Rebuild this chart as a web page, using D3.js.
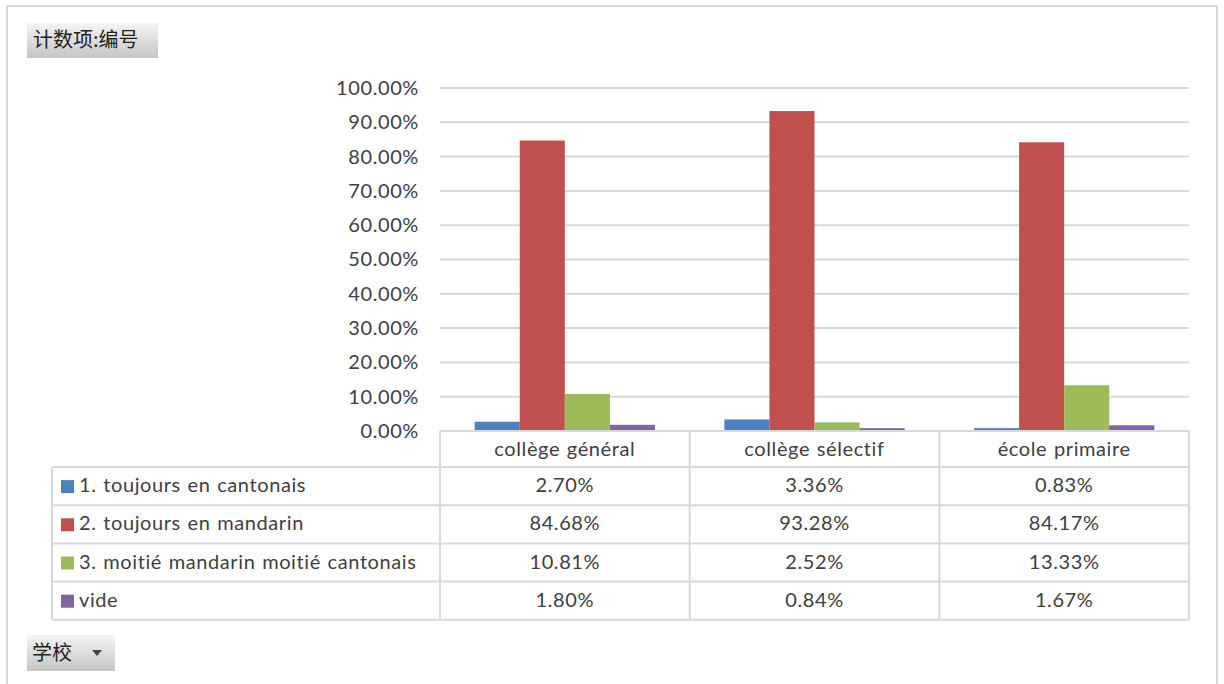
<!DOCTYPE html>
<html><head><meta charset="utf-8">
<script src="https://cdn.jsdelivr.net/npm/d3@7"></script>
<style>
body{margin:0;background:#fff;}
svg{display:block;}
</style></head><body>
<svg id="c" width="1224" height="684"></svg>
<script>
const categories = ["collège général", "collège sélectif", "école primaire"];
const seriesNames = ["1. toujours en cantonais", "2. toujours en mandarin", "3. moitié mandarin moitié cantonais", "vide"];
const s1 = [2.70, 3.36, 0.83];
const s2 = [84.68, 93.28, 84.17];
const s3 = [10.81, 2.52, 13.33];
const s4 = [1.80, 0.84, 1.67];
const seriesValues = [s1, s2, s3, s4];
const colors = ["#4F81BD", "#C0504D", "#9BBB59", "#8064A2"];
const yTicks = [0,10,20,30,40,50,60,70,80,90,100];

(function(){
const svg = d3.select("#c");
const font = "Lato, 'Open Sans', sans-serif";
const cjk = "'Noto Sans CJK SC', sans-serif";
const txt = sel => sel.attr("font-family",font).attr("font-size",20).attr("fill","#404040")
  .attr("letter-spacing",0.6).attr("word-spacing",1);

// outer frame (bottom edge off-canvas)
svg.append("rect").attr("x",7).attr("y",6).attr("width",1210).attr("height",700)
  .attr("fill","#fff").attr("stroke","#d9d9d9").attr("stroke-width",2);

const defs = svg.append("defs");
const g1 = defs.append("linearGradient").attr("id","btn").attr("x1",0).attr("y1",0).attr("x2",0).attr("y2",1);
g1.append("stop").attr("offset","0%").attr("stop-color","#f4f4f4");
g1.append("stop").attr("offset","100%").attr("stop-color","#c6c6c6");

// field buttons
svg.append("rect").attr("x",27).attr("y",23).attr("width",131).attr("height",35).attr("fill","url(#btn)");
svg.append("text").attr("x",33).attr("y",47).attr("font-family",cjk).attr("font-size",20).attr("fill","#222").text("计数项:编号");
svg.append("rect").attr("x",27).attr("y",635).attr("width",88).attr("height",36).attr("fill","url(#btn)");
svg.append("text").attr("x",32).attr("y",660).attr("font-family",cjk).attr("font-size",20).attr("fill","#222").text("学校");
svg.append("path").attr("d","M92,650 L102,650 L97,656 Z").attr("fill","#444");

const pLeft = 440, pRight = 1189, pTop = 88, pBottom = 431;
const x = d3.scaleBand().domain(categories).range([pLeft,pRight]);
const y = d3.scaleLinear().domain([0,100]).range([pBottom,pTop]);
const xs = d3.scaleBand().domain(d3.range(4)).range([0, x.bandwidth()]).paddingOuter(0.77).paddingInner(0);

// gridlines
svg.append("g").selectAll("line").data(yTicks).join("line")
  .attr("x1",pLeft).attr("x2",pRight).attr("y1",d=>y(d)).attr("y2",d=>y(d))
  .attr("stroke","#d9d9d9").attr("stroke-width",2);

// y axis labels
const yAxis = d3.axisLeft(y).tickValues(yTicks).tickFormat(d=>d.toFixed(2)+"%").tickSize(0).tickPadding(21);
const ya = svg.append("g").attr("transform",`translate(${pLeft},0)`).call(yAxis);
ya.select(".domain").remove();
ya.selectAll("text").call(txt);

// bars
categories.forEach((c,ci)=>{
  seriesValues.forEach((vals,si)=>{
    svg.append("rect").attr("x",x(c)+xs(si)).attr("width",xs.bandwidth())
      .attr("y",y(vals[ci])).attr("height",pBottom-y(vals[ci])).attr("fill",colors[si]);
  });
});

// data table
const tLeft = 52, headerBottom = 467, rowH = 38.2;
const tbl = svg.append("g").attr("stroke","#d9d9d9").attr("stroke-width",2).attr("fill","none");
tbl.append("line").attr("x1",pLeft).attr("x2",pRight).attr("y1",pBottom).attr("y2",pBottom);
const tBottom = headerBottom + rowH*4;
for(let i=0;i<=4;i++){
  tbl.append("line").attr("x1",tLeft).attr("x2",pRight).attr("y1",headerBottom+rowH*i).attr("y2",headerBottom+rowH*i);
}
tbl.append("line").attr("x1",tLeft).attr("x2",tLeft).attr("y1",headerBottom).attr("y2",tBottom);
[pLeft, ...categories.map(c=>x(c)+x.bandwidth())].forEach(xx=>{
  tbl.append("line").attr("x1",xx).attr("x2",xx).attr("y1",pBottom).attr("y2",tBottom);
});
svg.append("g").selectAll("text").data(categories).join("text")
  .attr("x",d=>x(d)+x.bandwidth()/2).attr("y",456).attr("text-anchor","middle")
  .call(txt).text(d=>d);
seriesNames.forEach((n,si)=>{
  const cy = headerBottom + rowH*si + rowH/2;
  svg.append("rect").attr("x",61).attr("y",cy-6).attr("width",13).attr("height",13).attr("fill",colors[si]);
  svg.append("text").attr("x",79).attr("y",cy+6).call(txt).text(n);
  categories.forEach((c,ci)=>{
    svg.append("text").attr("x",x(c)+x.bandwidth()/2).attr("y",cy+6).attr("text-anchor","middle")
      .call(txt).text(seriesValues[si][ci].toFixed(2)+"%");
  });
});
})();
</script></body></html>
